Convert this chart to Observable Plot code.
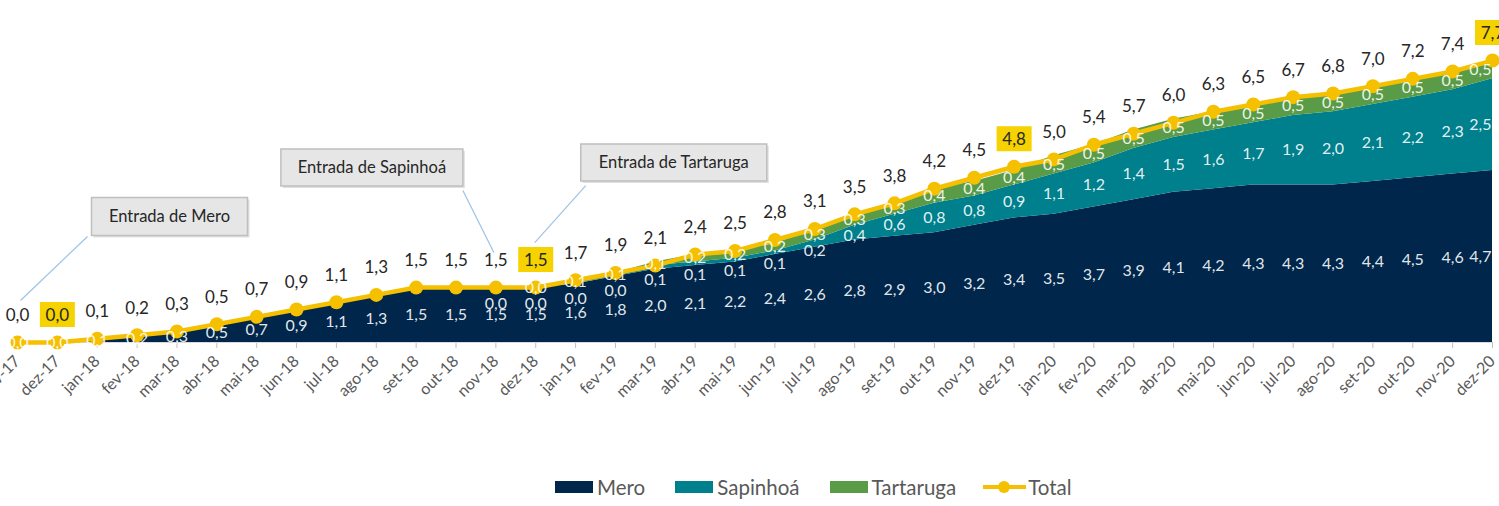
<!DOCTYPE html>
<html><head><meta charset="utf-8">
<script src="https://cdn.jsdelivr.net/npm/d3@7"></script>
<script src="https://cdn.jsdelivr.net/npm/@observablehq/plot@0.6"></script>
<style>
body{margin:0;background:#fff;font-family:Lato,"Open Sans",sans-serif;}
#chart svg{display:block;}
#legend{display:flex;align-items:center;height:38px;margin-left:555px;font-size:20.5px;color:#595959;}
.item{display:flex;align-items:center;}
.sw{width:38px;height:12px;margin-right:4px;}
.ln{position:relative;width:43px;height:12px;margin-right:2px;}
.ln:before{content:"";position:absolute;left:0;right:0;top:4px;height:4px;background:#f5c000;}
.ln:after{content:"";position:absolute;left:15px;top:0;width:12px;height:12px;border-radius:6px;background:#f5c000;}
</style></head><body>
<div id="chart"></div>
<div id="legend"></div>
<script>
// ---- data ----
const months = ["nov-17","dez-17","jan-18","fev-18","mar-18","abr-18","mai-18","jun-18","jul-18","ago-18","set-18","out-18","nov-18","dez-18","jan-19","fev-19","mar-19","abr-19","mai-19","jun-19","jul-19","ago-19","set-19","out-19","nov-19","dez-19","jan-20","fev-20","mar-20","abr-20","mai-20","jun-20","jul-20","ago-20","set-20","out-20","nov-20","dez-20"];
const mero = [0.0,0.0,0.1,0.2,0.3,0.5,0.7,0.9,1.1,1.3,1.5,1.5,1.5,1.5,1.6,1.8,2.0,2.1,2.2,2.4,2.6,2.8,2.9,3.0,3.2,3.4,3.5,3.7,3.9,4.1,4.2,4.3,4.3,4.3,4.4,4.5,4.6,4.7];
const sapinhoa = [null,null,null,null,null,null,null,null,null,null,null,null,0.0,0.0,0.0,0.0,0.1,0.1,0.1,0.1,0.2,0.4,0.6,0.8,0.8,0.9,1.1,1.2,1.4,1.5,1.6,1.7,1.9,2.0,2.1,2.2,2.3,2.5];
const tartaruga = [null,null,null,null,null,null,null,null,null,null,null,null,null,0.0,0.1,0.1,0.1,0.2,0.2,0.2,0.3,0.3,0.3,0.4,0.4,0.4,0.5,0.5,0.5,0.5,0.5,0.5,0.5,0.5,0.5,0.5,0.5,0.5];
const total = [0.0,0.0,0.1,0.2,0.3,0.5,0.7,0.9,1.1,1.3,1.5,1.5,1.5,1.5,1.7,1.9,2.1,2.4,2.5,2.8,3.1,3.5,3.8,4.2,4.5,4.8,5.0,5.4,5.7,6.0,6.3,6.5,6.7,6.8,7.0,7.2,7.4,7.7];
const highlighted = ["dez-17","dez-18","dez-19","dez-20"];
const callouts = [
  {text:"Entrada de Mero", month:"nov-17"},
  {text:"Entrada de Sapinhoá", month:"nov-18"},
  {text:"Entrada de Tartaruga", month:"dez-18"}
];
const seriesNames = ["Mero","Sapinhoá","Tartaruga","Total"];

// ---- styles ----
const C = {mero:"#00274b", sap:"#007f8d", tart:"#5a9b48", total:"#f5c000", hl:"#f5d200"};
const calloutGeom = {
  "Entrada de Mero":      {bx:152, by:-126, w:156, h:38, l:[3,-42,70,-106]},
  "Entrada de Sapinhoá":  {bx:-124, by:-120, w:182, h:37, l:[-2,-35,-33,-97]},
  "Entrada de Tartaruga": {bx:138, by:-125, w:186, h:37, l:[-1,-45,50,-102]}
};
const gaps = [30, 30, 27, 0];
const fmt = v => v.toFixed(1).replace(".", ",");

const rows = months.map((m, i) => {
  const s = sapinhoa[i] ?? 0, t = tartaruga[i] ?? 0;
  const r = {i, m, mero: mero[i], sap: s, tart: t, hasSap: sapinhoa[i] != null, hasTart: tartaruga[i] != null,
    y1: mero[i], y2: mero[i] + s, y3: mero[i] + s + t, total: total[i], last: i === months.length - 1};
  r.tartMid = r.y2 + t / 2;
  r.sapMid = Math.min(r.y1 + s / 2, r.tartMid - 0.45);
  r.meroMid = mero[i] / 2;
  return r;
});
const idx = m => months.indexOf(m);

const rectSym = (cx, cy, w, h) => ({draw(ctx){ctx.rect(cx - w/2, cy - h/2, w, h);}});
const lineSym = (a) => ({draw(ctx){ctx.moveTo(a[0], a[1]); ctx.lineTo(a[2], a[3]);}});

const inner = {fill:"#fff", fillOpacity:0.9, fontSize:16};
const innerLabels = (data, y, key) => [
  Plot.text(data.filter(d => !d.last), {x:"i", y, text: d => fmt(d[key]), ...inner}),
  Plot.text(data.filter(d => d.last), {x:"i", y, text: d => fmt(d[key]), textAnchor:"end", dx:-1, ...inner})
];

const marks = [
  Plot.areaY(rows, {x:"i", y1:0, y2:"y1", fill:C.mero}),
  Plot.areaY(rows.filter(d => d.hasSap), {x:"i", y1:"y1", y2:"y2", fill:C.sap}),
  Plot.areaY(rows.filter(d => d.hasTart), {x:"i", y1:"y2", y2:"y3", fill:C.tart}),
  Plot.ruleY([0], {stroke:"#d9d9d9"}),
  Plot.line(rows, {x:"i", y:"total", stroke:C.total, strokeWidth:4.5}),
  Plot.dot(rows, {x:"i", y:"total", r:7, fill:C.total}),
  ...innerLabels(rows, "meroMid", "mero"),
  ...innerLabels(rows.filter(d => d.hasSap), "sapMid", "sap"),
  ...innerLabels(rows.filter(d => d.hasTart), "tartMid", "tart"),
  Plot.dot(rows.filter(d => highlighted.includes(d.m)), {x:"i", y:"total", symbol: rectSym(0, -28, 35, 25), r:5, fill:C.hl}),
  Plot.text(rows, {x:"i", y:"total", text: d => fmt(d.total), dy:-27, fill:"#262626", fontSize:17})
];
for (const c of callouts) {
  const g = calloutGeom[c.text];
  const d = [{x: idx(c.month), y: total[idx(c.month)], text: c.text}];
  marks.push(
    Plot.dot(d, {x:"x", y:"y", symbol: lineSym(g.l), r:5, fill:"none", stroke:"#9dc3e6", strokeWidth:1.2}),
    Plot.dot(d, {x:"x", y:"y", symbol: rectSym(g.bx + 2, g.by + 2, g.w, g.h), r:5, fill:"#000", fillOpacity:0.12}),
    Plot.dot(d, {x:"x", y:"y", symbol: rectSym(g.bx, g.by, g.w, g.h), r:5, fill:"#e7e6e6", stroke:"#bfbfbf", strokeWidth:1.5}),
    Plot.text(d, {x:"x", y:"y", text:"text", dx:g.bx, dy:g.by, fill:"#262626", fontSize:16.5})
  );
}

const chart = Plot.plot({
  width: 1499, height: 468,
  marginLeft: 17, marginRight: 7, marginTop: 0, marginBottom: 126,
  style: {fontFamily: "Lato, 'Open Sans', sans-serif", fontSize: "16px", color: "#595959", background: "#fff", overflow: "visible"},
  x: {domain: [0, months.length - 1], ticks: d3.range(months.length), tickFormat: i => months[i], tickRotate: -45, tickSize: 6, tickPadding: 10, label: null},
  y: {domain: [0, 9.34], axis: null},
  marks
});
document.getElementById("chart").appendChild(chart);
chart.querySelectorAll('[aria-label="x-axis tick"] path, [aria-label="x-axis tick"] line, [aria-label="x-axis"] line, [aria-label="x-axis"] path').forEach(e => e.setAttribute("stroke", "#bfbfbf"));

// ---- legend ----
const legend = document.getElementById("legend");
const swCols = [C.mero, C.sap, C.tart];
seriesNames.forEach((n, k) => {
  const it = document.createElement("div"); it.className = "item";
  it.style.marginRight = gaps[k] + "px";
  const sw = document.createElement("div");
  if (k < 3) { sw.className = "sw"; sw.style.background = swCols[k]; } else { sw.className = "ln"; }
  it.appendChild(sw);
  const t = document.createElement("span"); t.textContent = n; it.appendChild(t);
  legend.appendChild(it);
});
</script>
</body></html>
